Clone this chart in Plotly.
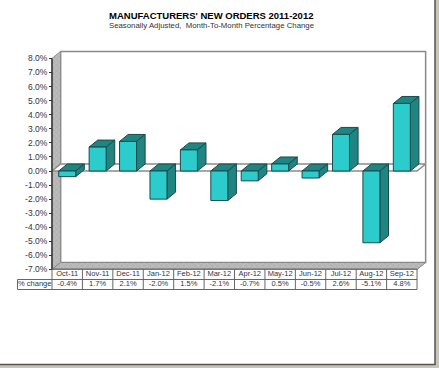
import plotly.graph_objects as go

title = "MANUFACTURERS' NEW ORDERS 2011-2012"
subtitle = "Seasonally Adjusted,  Month-To-Month Percentage Change"
months = ["Oct-11","Nov-11","Dec-11","Jan-12","Feb-12","Mar-12","Apr-12","May-12","Jun-12","Jul-12","Aug-12","Sep-12"]
changes = [-0.4,1.7,2.1,-2.0,1.5,-2.1,-0.7,0.5,-0.5,2.6,-5.1,4.8]
y_ticks = list(range(-7,9))
row_label = "% change"

W,H = 439,368
X0,XW = 52.0,30.42      # px of category 0 edge, px per category
Y0,YU = 171.0,14.07     # px of zero, px per percent
DX,DY = 8.6/XW,7.0/YU   # 3-D depth in axis units
BW = 17.0/XW
n = len(months)
ymin,ymax = y_ticks[0],y_ticks[-1]
EDGE="#4a4a4a"; GRID="#8a8a8a"; WALL="#b4b4b4"
FRONT="#2ccccc"; DARK="#1f8583"; TEXT="#333344"; BAREDGE="#1c4a4a"

fig = go.Figure()
def poly(xs,ys,fill,line=EDGE,width=1,pattern=None):
    kw={}
    if pattern: kw["fillpattern"]=pattern
    fig.add_trace(go.Scatter(x=xs+xs[:1],y=ys+ys[:1],mode="lines",fill="toself",fillcolor=fill,
        line=dict(color=line,width=width),hoverinfo="skip",showlegend=False,**kw))

hatch=dict(shape="x",size=4,solidity=0.25,fgcolor="#d8d8d8",bgcolor=WALL)
# back wall
poly([DX,n+DX,n+DX,DX],[ymin+DY,ymin+DY,ymax+DY,ymax+DY],"#ffffff",line=GRID,width=1.5)
# left wall and floor
poly([0,DX,DX,0],[ymin,ymin+DY,ymax+DY,ymax],WALL,line=GRID,pattern=hatch)
poly([0,DX,n+DX,n],[ymin,ymin+DY,ymin+DY,ymin],WALL,line=GRID,pattern=hatch)
# zero plane
poly([0,DX,n+DX,n],[0,DY,DY,0],"#ffffff",line=GRID,width=1.5)

# bars
xc=[i+0.5 for i in range(n)]
for c,v in zip(xc,changes):
    l,r=c-BW/2,c+BW/2
    top=max(v,0); bot=min(v,0)
    poly([l,l+DX,r+DX,r],[top,top+DY,top+DY,top],DARK,line=BAREDGE)
    poly([r,r+DX,r+DX,r],[top,top+DY,bot+DY,bot],DARK,line=BAREDGE)
    poly([l,r,r,l],[bot,bot,top,top],FRONT,line=BAREDGE)

# y axis line
fig.add_trace(go.Scatter(x=[0,0],y=[ymin,ymax],mode="lines",line=dict(color="#333333",width=1.5),
    hoverinfo="skip",showlegend=False))

# data table
R1=(269-Y0)/-YU; R2=(279.5-Y0)/-YU; R3=(289.5-Y0)/-YU
LBL=(17.5-X0)/XW
tx=[];ty=[]
for yy,a,b in [(R1,0,n),(R2,LBL,n),(R3,LBL,n)]:
    tx+=[a,b,None]; ty+=[yy,yy,None]
for i in range(n+1):
    tx+=[i,i,None]; ty+=[R1,R3,None]
tx+=[LBL,LBL,None]; ty+=[R2,R3,None]
fig.add_trace(go.Scatter(x=tx,y=ty,mode="lines",line=dict(color="#666666",width=1),hoverinfo="skip",showlegend=False))
TF=dict(family="Liberation Sans",size=7.5,color=TEXT)
fig.add_trace(go.Scatter(x=xc,y=[(R2+R3)/2]*n,mode="text",text=[f"{v:.1f}%" for v in changes],
    textfont=TF,hoverinfo="skip",showlegend=False))
fig.add_trace(go.Scatter(x=[(LBL)/2],y=[(R2+R3)/2],mode="text",text=[row_label],
    textfont=TF,hoverinfo="skip",showlegend=False))

fig.update_layout(width=W,height=H,margin=dict(l=0,r=0,t=0,b=0),paper_bgcolor="#ffffff",plot_bgcolor="rgba(0,0,0,0)",
    xaxis=dict(domain=[0,1],range=[-X0/XW,(W-X0)/XW],tickmode="array",tickvals=xc,ticktext=months,
        showgrid=False,zeroline=False,ticks="",ticklen=0,anchor="free",position=(H-269+2)/H,
        tickfont=TF),
    yaxis=dict(domain=[0,1],range=[-(H-Y0)/YU,Y0/YU],tickmode="array",tickvals=y_ticks,
        ticktext=[f"{v:.1f}%" for v in y_ticks],showgrid=False,zeroline=False,ticks="outside",ticklen=3,
        tickcolor="#333333",anchor="free",position=X0/W,
        tickfont=dict(family="Liberation Sans",size=8.5,color=TEXT)),
    annotations=[
        dict(text=f"<b>{title}</b>",xref="paper",yref="paper",x=211/W,y=1-15/H,showarrow=False,yanchor="middle",
             font=dict(family="Liberation Sans",size=9.5,color="#000000")),
        dict(text=subtitle,xref="paper",yref="paper",x=211/W,y=1-25/H,showarrow=False,yanchor="middle",
             font=dict(family="Liberation Sans",size=7.8,color="#333333")),
    ],
    shapes=[
        dict(type="rect",xref="paper",yref="paper",x0=435/W,x1=1,y0=0,y1=1,fillcolor="#c9c4b4",line_width=0,layer="below"),
        dict(type="rect",xref="paper",yref="paper",x0=0,x1=1,y0=0,y1=3/H,fillcolor="#c9c4b4",line_width=0,layer="below"),
        dict(type="line",xref="paper",yref="paper",x0=435/W,x1=435/W,y0=3/H,y1=1,line=dict(color="#555555",width=1.5)),
        dict(type="line",xref="paper",yref="paper",x0=0,x1=435.5/W,y0=3.5/H,y1=3.5/H,line=dict(color="#555555",width=1.5)),
    ])
fig.write_html("out.html",config=dict(displayModeBar=False),post_script="document.body.style.margin='0';document.body.style.overflow='hidden';")
